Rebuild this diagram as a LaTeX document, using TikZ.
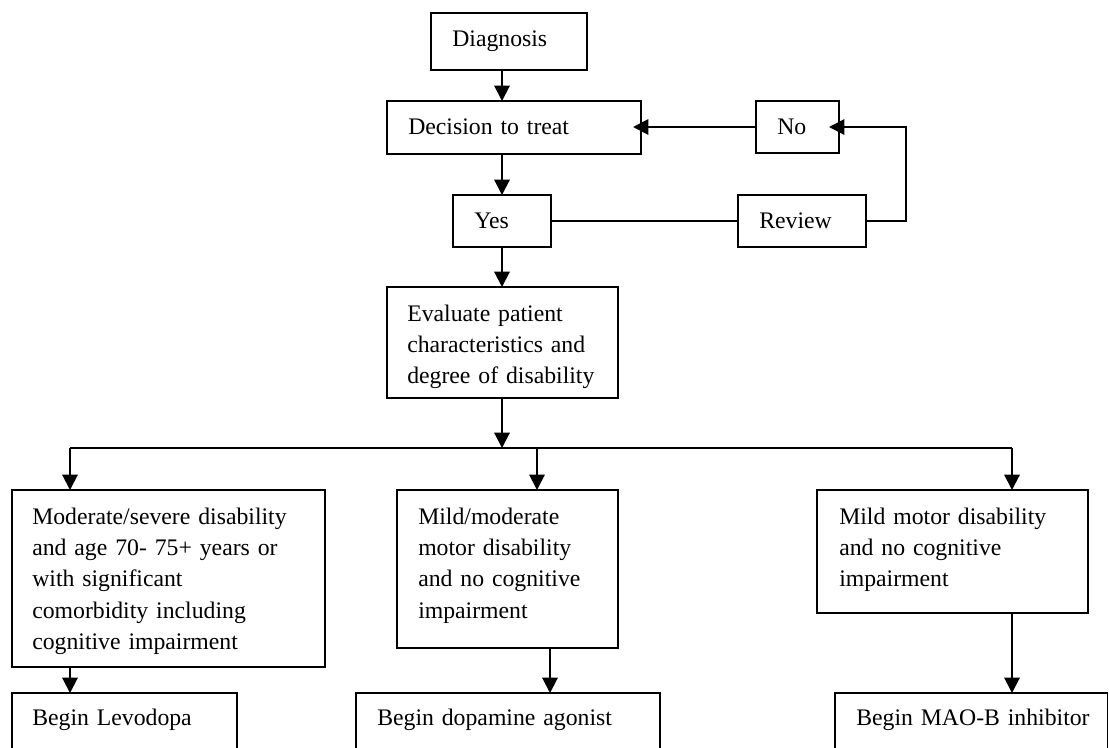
\documentclass[tikz,border=0pt]{standalone}
\usepackage{fontspec}
\setmainfont{Liberation Serif}
\usetikzlibrary{arrows.meta}
\tikzset{
  box/.style={draw, line width=1pt, rectangle, inner sep=0pt, outer sep=0pt, anchor=north west},
  txt/.style={inner sep=0pt, anchor=base west, align=left, text width=300pt,
              font={\fontsize{17.8}{23.5}\selectfont}},
  conn/.style={line width=1.2pt},
  arr/.style={line width=1.5pt, -{Triangle[length=11.5pt,width=11.5pt]}}
}
\newcommand{\mybox}[5]{%
  \node[box, minimum width={(#4-#2)*0.75pt}, minimum height={(#5-#3)*0.75pt}] (#1) at (#2,#3) {};}
\begin{document}
\begin{tikzpicture}[x=0.75pt,y=-0.75pt]
\useasboundingbox (0,0) rectangle (1109,747);
\fill[white] (0,0) rectangle (1109,747);
% boxes
\mybox{diag}{431}{13}{587}{70}
\mybox{dec}{387}{101}{641}{154}
\mybox{no}{756}{101}{839}{153}
\mybox{yes}{453}{195}{551}{247}
\mybox{rev}{738}{195}{866}{247}
\mybox{eval}{387}{287}{618}{398}
\mybox{bA}{12}{490}{325}{667}
\mybox{bB}{397}{490}{618}{648}
\mybox{bC}{817}{490}{1088}{613}
\mybox{cA}{12}{693}{237}{775}
\mybox{cB}{356}{693}{660}{775}
\mybox{cC}{835}{693}{1107.5}{775}
% texts
\node[txt] (diagT) at ([shift={(21,33)}]diag.north west) {Diagnosis};
\node[txt] (decT) at ([shift={(21,33)}]dec.north west) {Decision to treat};
\node[txt] (noT) at ([shift={(21,33)}]no.north west) {No};
\node[txt] (yesT) at ([shift={(21,33)}]yes.north west) {Yes};
\node[txt] (revT) at ([shift={(21,33)}]rev.north west) {Review};
\node[txt] (evalT) at ([shift={(20,34)}]eval.north west) {Evaluate patient\\characteristics and\\degree of disability};
\node[txt] (bAT) at ([shift={(20,34)}]bA.north west) {Moderate/severe disability\\and age 70- 75+ years or\\with significant\\comorbidity including\\cognitive impairment};
\node[txt] (bBT) at ([shift={(21,34)}]bB.north west) {Mild/moderate\\motor disability\\and no cognitive\\impairment};
\node[txt] (bCT) at ([shift={(22,34)}]bC.north west) {Mild motor disability\\and no cognitive\\impairment};
\node[txt] (cAT) at ([shift={(20,32)}]cA.north west) {Begin Levodopa};
\node[txt] (cBT) at ([shift={(21,32)}]cB.north west) {Begin dopamine agonist};
\node[txt] (cCT) at ([shift={(21,32)}]cC.north west) {Begin MAO-B inhibitor};
% junction coordinates
\coordinate (split) at (502,448);
\coordinate (jA) at (70,448);
\coordinate (jB) at (537,448);
\coordinate (jC) at (1012,448);
% connectors
\draw[arr] (diag.south -| yes.north) -- (dec.north -| yes.north);
\draw[arr] (dec.south -| yes.north) -- (yes.north);
\draw[conn] (yes.east) -- (yes.east -| rev.west);
\draw[arr] (rev.east) -- ++(40,0) |- ([xshift=-7.5pt]no.east);
\draw[arr] (no.west) -- ([xshift=-6pt]no.west -| dec.east);
\draw[arr] (yes.south) -- (eval.north -| yes.south);
\draw[arr] (eval.south -| split) -- (split);
\draw[conn] (jA) -- (jC);
\draw[arr] (jA) -- (jA |- bA.north);
\draw[arr] (jB) -- (jB |- bB.north);
\draw[arr] (jC) -- (jC |- bC.north);
\draw[arr] (bA.south -| jA) -- (cA.north -| jA);
\draw[arr] (bB.south -| 550,0) -- (cB.north -| 550,0);
\draw[arr] (bC.south -| jC) -- (cC.north -| jC);
\end{tikzpicture}
\end{document}
